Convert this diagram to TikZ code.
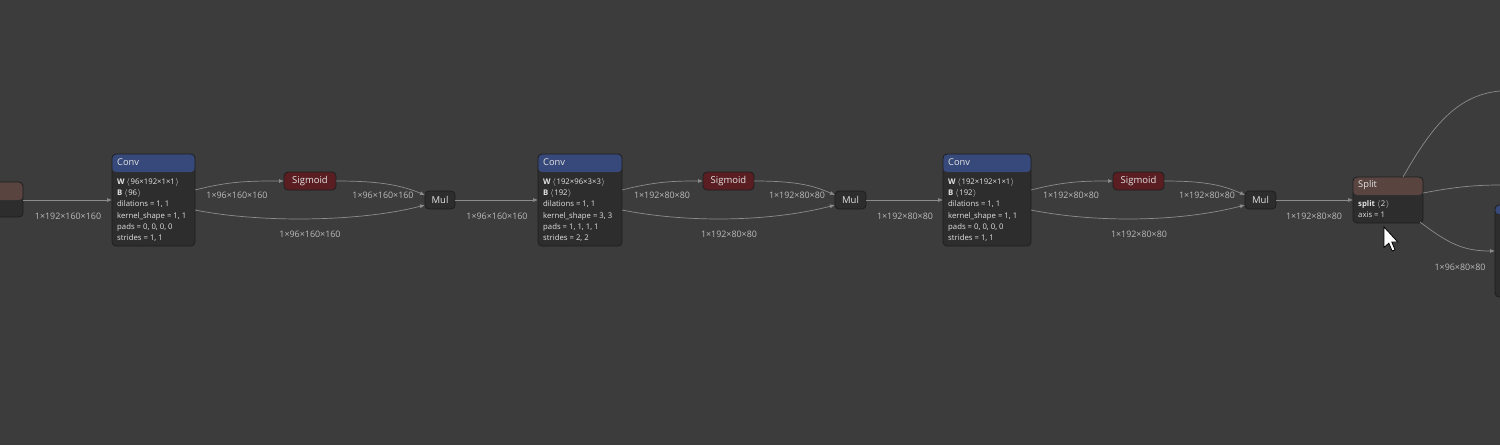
\documentclass[tikz,border=0pt]{standalone}
\usepackage{fontspec}
\setmainfont{Open Sans}
\usetikzlibrary{calc,arrows.meta}
\definecolor{bgc}{HTML}{3C3C3C}
\definecolor{bodyc}{HTML}{2D2D2D}
\definecolor{borderc}{HTML}{1E1E1E}
\definecolor{convc}{HTML}{36497A}
\definecolor{sigc}{HTML}{5A1E22}
\definecolor{splitc}{HTML}{5A4440}
\definecolor{edgec}{HTML}{8C8C8C}
\definecolor{labc}{HTML}{BBBBBB}
\definecolor{txtc}{HTML}{E4E4E4}
\tikzset{
  opbox/.style={draw=borderc, fill=bodyc, rounded corners=4pt, line width=0.8pt,
    anchor=north west, inner sep=0pt, outer sep=0pt},
  head/.style={path picture={\fill[#1] (path picture bounding box.north west) rectangle ([yshift=-18pt]path picture bounding box.north east);}},
  smallop/.style={draw=borderc, rounded corners=4pt, line width=0.8pt, inner sep=0pt, outer sep=0pt,
    minimum height=18pt, text=txtc, font=\fontsize{9.5}{11}\selectfont},
  title/.style={anchor=west, inner sep=0pt, text=txtc, font=\fontsize{9.3}{11}\selectfont},
  attrs/.style={anchor=north west, inner sep=0pt, align=left, text=txtc, font=\fontsize{7.75}{11.2}\selectfont},
  lab/.style={inner sep=0pt, text=labc, font=\fontsize{8.9}{10}\selectfont},
  edge/.style={draw=edgec, line width=0.7pt, -{Latex[length=5pt,width=4pt]}},
  edgenotip/.style={draw=edgec, line width=0.7pt},
}
\newcommand{\bx}[1]{\textbf{#1}\hspace{2pt}$\langle$\hspace{0.6pt}}
\newcommand{\ex}{\hspace{0.6pt}$\rangle$}
\begin{document}
\begin{tikzpicture}[x=1pt,y=-1pt]
\useasboundingbox[fill=bgc] (0,0) rectangle (1500,445);
\begin{scope}
\clip (0,0) rectangle (1500,445);
% left partial node
\node[opbox, head=splitc, minimum width=36pt, minimum height=35pt] (p0) at (-13,182) {};
% right partial node
\node[opbox, path picture={\fill[convc] (path picture bounding box.north west) rectangle ([yshift=-9pt]path picture bounding box.north east);}, minimum width=40pt, minimum height=92pt] (p1) at (1495,205) {};

% Conv 1
\node[opbox, head=convc, minimum width=83pt, minimum height=92pt] (c1) at (112,154) {};
\node[title] (c1t) at (117,162.5) {Conv};
\node[attrs] (c1a) at (117,178.3) {\bx{W}96×192×1×1\ex\\\bx{B}96\ex\\dilations = 1, 1\\kernel\_shape = 1, 1\\pads = 0, 0, 0, 0\\strides = 1, 1};
\node[smallop, fill=sigc, minimum width=52pt] (s1) at (310,181) {Sigmoid};
\node[smallop, fill=bodyc, minimum width=30pt] (m1) at (440,200) {Mul};

% Conv 2
\node[opbox, head=convc, minimum width=84pt, minimum height=92pt] (c2) at (538,154) {};
\node[title] (c2t) at (543,162.5) {Conv};
\node[attrs] (c2a) at (543,178.3) {\bx{W}192×96×3×3\ex\\\bx{B}192\ex\\dilations = 1, 1\\kernel\_shape = 3, 3\\pads = 1, 1, 1, 1\\strides = 2, 2};
\node[smallop, fill=sigc, minimum width=51pt] (s2) at (728.5,181) {Sigmoid};
\node[smallop, fill=bodyc, minimum width=31pt] (m2) at (850.5,200) {Mul};

% Conv 3
\node[opbox, head=convc, minimum width=88pt, minimum height=92pt] (c3) at (943,154) {};
\node[title] (c3t) at (948,162.5) {Conv};
\node[attrs] (c3a) at (948,178.3) {\bx{W}192×192×1×1\ex\\\bx{B}192\ex\\dilations = 1, 1\\kernel\_shape = 1, 1\\pads = 0, 0, 0, 0\\strides = 1, 1};
\node[smallop, fill=sigc, minimum width=51pt] (s3) at (1138.5,181) {Sigmoid};
\node[smallop, fill=bodyc, minimum width=31pt] (m3) at (1260.5,200) {Mul};

% Split
\node[opbox, head=splitc, minimum width=70pt, minimum height=46pt] (sp) at (1353,177) {};
\node[title] (spt) at (1358,185.5) {Split};
\node[attrs] (spa) at (1358,200.3) {\bx{split}2\ex\\axis = 1};

% edges
\draw[edge] ($(p0.north east)+(0,18)$) -- (c1.west);
\draw[edge] ($(c1.north east)+(0,36)$) .. controls (230,181) and (250,181) .. (s1.west);
\draw[edge] ($(c1.north east)+(0,56)$) .. controls (260,223) and (360,222) .. ($(m1.west)+(0,5)$);
\draw[edge] (s1.east) .. controls (380,181) and (400,185) .. ($(m1.west)+(0,-5)$);
\draw[edge] (m1.east) -- (c2.west);

\draw[edge] ($(c2.north east)+(0,36)$) .. controls (657,181) and (677,181) .. (s2.west);
\draw[edge] ($(c2.north east)+(0,56)$) .. controls (687,223) and (770,222) .. ($(m2.west)+(0,5)$);
\draw[edge] (s2.east) .. controls (795,181) and (812,185) .. ($(m2.west)+(0,-5)$);
\draw[edge] (m2.east) -- (c3.west);

\draw[edge] ($(c3.north east)+(0,36)$) .. controls (1066,181) and (1086,181) .. (s3.west);
\draw[edge] ($(c3.north east)+(0,56)$) .. controls (1096,223) and (1180,222) .. ($(m3.west)+(0,5)$);
\draw[edge] (s3.east) .. controls (1205,181) and (1222,185) .. ($(m3.west)+(0,-5)$);
\draw[edge] (m3.east) -- (sp.west);

\coordinate (o1) at (1500,91);
\coordinate (o2) at (1500,185);
\draw[edgenotip] ($(sp.north west)+(50,0)$) .. controls (1430,130) and (1455,95) .. (o1);
\draw[edgenotip] ($(sp.north east)+(0,16)$) .. controls (1450,188) and (1470,185) .. (o2);
\draw[edge] ($(sp.north east)+(-3,45)$) .. controls (1450,245) and (1465,251) .. ($(p1.north west)+(0,46)$);

% labels
\node[lab] (l0) at (68,216) {1×192×160×160};
\node[lab] (l1) at (237,195) {1×96×160×160};
\node[lab] (l2) at (383,195) {1×96×160×160};
\node[lab] (l3) at (310,234) {1×96×160×160};
\node[lab] (l4) at (497,216) {1×96×160×160};
\node[lab] (l5) at (662,195) {1×192×80×80};
\node[lab] (l6) at (797,195) {1×192×80×80};
\node[lab] (l7) at (729,234) {1×192×80×80};
\node[lab] (l8) at (905,216) {1×192×80×80};
\node[lab] (l9) at (1071,195) {1×192×80×80};
\node[lab] (l10) at (1207,195) {1×192×80×80};
\node[lab] (l11) at (1139,234) {1×192×80×80};
\node[lab] (l12) at (1314,216) {1×192×80×80};
\node[lab] (l13) at (1460,267) {1×96×80×80};

% mouse cursor
\draw[fill=white, draw=black, line width=0.8pt, line join=miter, scale=1.2, shift={(1384/1.2,227/1.2)}]
  (0,0) -- (0,17) -- (4,13.5) -- (6.8,20) -- (9.2,19) -- (6.5,12.5) -- (11.5,12.5) -- cycle;
\end{scope}
\end{tikzpicture}
\end{document}
